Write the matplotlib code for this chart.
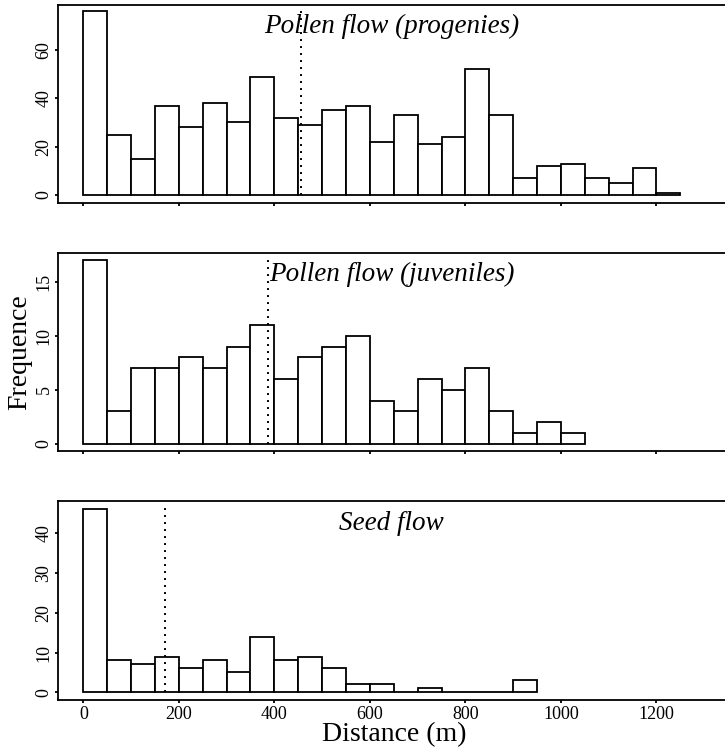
import matplotlib

matplotlib.use("Agg")
import matplotlib.pyplot as plt
import numpy as np


BIN_WIDTH = 50

PROGENY_COUNTS = [76, 25, 15, 37, 28, 38, 30, 49, 32, 29, 35, 37, 22, 33, 21, 24, 52, 33, 7, 12, 13, 7, 5, 11, 1]
JUVENILE_COUNTS = [17, 3, 7, 7, 8, 7, 9, 11, 6, 8, 9, 10, 4, 3, 6, 5, 7, 3, 1, 2, 1]
SEED_COUNTS = [46, 8, 7, 9, 6, 8, 5, 14, 8, 9, 6, 2, 2, 0, 1, 0, 0, 0, 3]

PANEL_TITLES = ["Pollen flow (progenies)", "Pollen flow (juveniles)", "Seed flow"]
MEAN_DISTANCES = [455, 386, 170]
Y_TICKS = [[0, 20, 40, 60], [0, 5, 10, 15], [0, 10, 20, 30, 40]]
Y_LIMITS = [(-3.3, 78.6), (-0.68, 17.7), (-1.93, 48.0)]
X_TICKS = [0, 200, 400, 600, 800, 1000, 1200]

FONT = "Liberation Serif"
LINE_W = 1.3

# panel boxes in pixels from the top of a 725x752 canvas
FIG_W, FIG_H = 725, 752
PANEL_TOPS = [5, 252.7, 501.3]
PANEL_BOTTOMS = [203, 451, 700]
LEFT_PX, RIGHT_PX = 58, 730


def apply_plot_style():
    plt.rcParams.update(
        {
            "font.family": FONT,
            "axes.linewidth": LINE_W,
            "xtick.major.width": LINE_W,
            "ytick.major.width": LINE_W,
            "xtick.major.size": 2.5,
            "ytick.major.size": 2.5,
            "xtick.labelsize": 13,
            "ytick.labelsize": 13,
        }
    )


def draw_panel(ax, counts, title, mean_dist, yticks, ylim, show_xlabels):
    edges = np.arange(len(counts)) * BIN_WIDTH
    ax.bar(
        edges,
        counts,
        width=BIN_WIDTH,
        align="edge",
        facecolor="white",
        edgecolor="black",
        linewidth=LINE_W,
    )
    ax.vlines(mean_dist, 0, ylim[1] * 0.985, colors="black", linestyles=(0, (1, 2.6)), linewidth=1.4)

    ax.set_xlim(-53, 1354)
    ax.set_ylim(*ylim)
    ax.set_yticks(yticks)
    ax.set_xticks(X_TICKS)
    ax.tick_params(axis="y", labelrotation=90, pad=1.5)
    for lab in ax.get_yticklabels():
        lab.set_verticalalignment("center")
    if show_xlabels:
        ax.tick_params(axis="x", pad=2)
    else:
        ax.set_xticklabels([])

    ax.text(645, 0.857, title, transform=ax.get_xaxis_transform(), ha="center", va="baseline",
            fontsize=19.5, style="italic")


def main():
    apply_plot_style()
    fig = plt.figure(figsize=(FIG_W / 100, FIG_H / 100), dpi=100)

    all_counts = [PROGENY_COUNTS, JUVENILE_COUNTS, SEED_COUNTS]
    for i, counts in enumerate(all_counts):
        top, bottom = PANEL_TOPS[i], PANEL_BOTTOMS[i]
        ax = fig.add_axes(
            [
                LEFT_PX / FIG_W,
                1 - bottom / FIG_H,
                (RIGHT_PX - LEFT_PX) / FIG_W,
                (bottom - top) / FIG_H,
            ]
        )
        draw_panel(ax, counts, PANEL_TITLES[i], MEAN_DISTANCES[i], Y_TICKS[i], Y_LIMITS[i], i == 2)

    fig.text(20 / FIG_W, 1 - 352 / FIG_H, "Frequence", rotation=90, ha="center", va="center", fontsize=20)
    fig.text(394 / FIG_W, 1 - 735 / FIG_H, "Distance (m)", ha="center", va="center", fontsize=20)

    fig.savefig("out.png", dpi=100)
    plt.close(fig)


if __name__ == "__main__":
    main()
